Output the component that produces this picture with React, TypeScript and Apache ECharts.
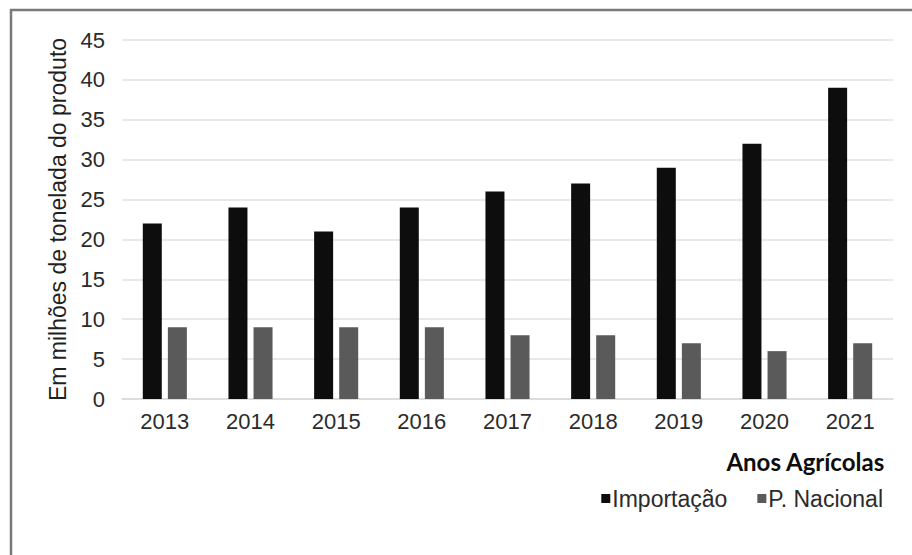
import React, { useEffect, useRef } from "react";
import * as echarts from "echarts";

const categories = ["2013", "2014", "2015", "2016", "2017", "2018", "2019", "2020", "2021"];
const importacao = [22, 24, 21, 24, 26, 27, 29, 32, 39];
const nacional = [9, 9, 9, 9, 8, 8, 7, 6, 7];
const seriesNames = ["Importação", "P. Nacional"];
const yAxisName = "Em milhões de tonelada do produto";
const xAxisName = "Anos Agrícolas";

export default function App() {
  const ref = useRef<HTMLDivElement>(null);
  useEffect(() => {
    document.body.style.margin = "0";
    const chart = echarts.init(ref.current!, null, { renderer: "svg" });
    const font = "'Liberation Sans', Arial, sans-serif";
    chart.setOption({
      animation: false,
      backgroundColor: "#ffffff",
      grid: { left: 122, right: 19, top: 40, bottom: 156 },
      legend: {
        data: seriesNames,
        right: 24,
        top: 482,
        icon: "rect",
        itemWidth: 9,
        itemHeight: 9,
        itemGap: 30,
        textStyle: { fontFamily: font, fontSize: 23, color: "#2b2b2b", padding: [0, 0, 0, -3] },
      },
      graphic: [
        {
          type: "rect",
          shape: { x: 11, y: 10, width: 1000, height: 700 },
          style: { fill: "none", stroke: "#7a7a7a", lineWidth: 2.5 },
          silent: true,
        },
        {
          type: "text",
          right: 27,
          top: 449,
          style: {
            text: xAxisName,
            font: "bold 24px Lato, 'Open Sans', sans-serif",
            fill: "#0d0d0d",
          },
        },
      ],
      xAxis: {
        type: "category",
        data: categories,
        axisLine: { show: true, lineStyle: { color: "#d9d9d9", width: 1.5 } },
        axisTick: { show: false },
        axisLabel: { fontFamily: font, fontSize: 22, color: "#2b2b2b", margin: 11 },
      },
      yAxis: {
        type: "value",
        min: 0,
        max: 45,
        interval: 5,
        name: yAxisName,
        nameLocation: "middle",
        nameGap: 52,
        nameTextStyle: { fontFamily: font, fontSize: 23, color: "#1f1f1f" },
        axisLine: { show: false },
        axisTick: { show: false },
        axisLabel: { fontFamily: font, fontSize: 22, color: "#2b2b2b", margin: 17 },
        splitLine: { lineStyle: { color: "#e0e0e0", width: 1.5 } },
      },
      series: [
        {
          name: seriesNames[0],
          type: "bar",
          data: importacao,
          barWidth: 19,
          barGap: "32%",
          itemStyle: { color: "#0d0d0d" },
        },
        {
          name: seriesNames[1],
          type: "bar",
          data: nacional,
          barWidth: 19,
          itemStyle: { color: "#5a5a5a" },
        },
      ],
    });
    return () => chart.dispose();
  }, []);
  return <div ref={ref} style={{ width: 912, height: 555, position: "absolute", left: 0, top: 0 }} />;
}
